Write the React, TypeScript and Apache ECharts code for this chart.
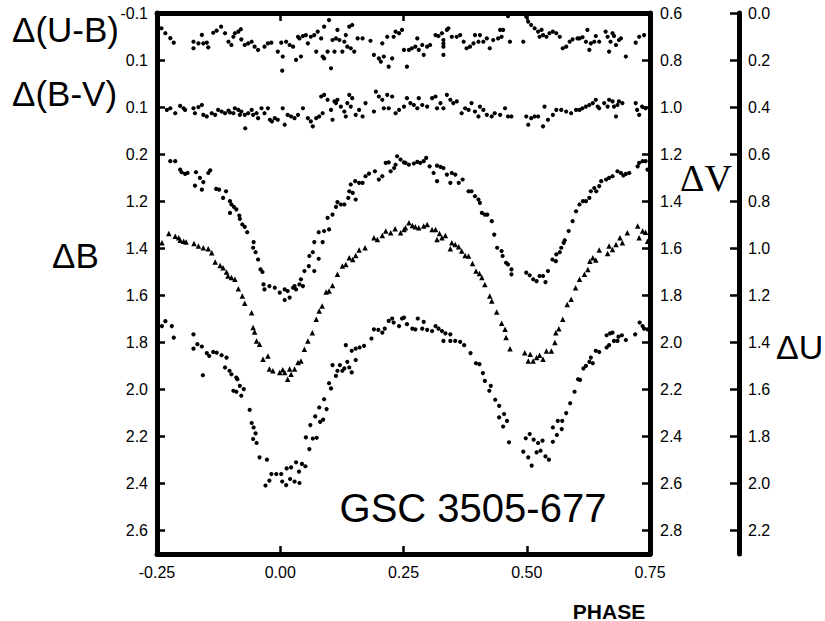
import React, { useEffect, useRef } from 'react';
import * as echarts from 'echarts';

const FONT = '"Liberation Sans", Arial, Helvetica, sans-serif';
const SERIF = '"Liberation Serif", "Times New Roman", serif';

// Phase axis ticks
const phaseTicks = [-0.25, 0, 0.25, 0.5, 0.75];

// Left axis (ΔB scale, labels as printed on the figure)
const leftTickValues = [0.4, 0.6, 0.8, 1.0, 1.2, 1.4, 1.6, 1.8, 2.0, 2.2, 2.4, 2.6];
const leftTickLabels = ['-0.1', '0.1', '0.1', '0.2', '1.2', '1.4', '1.6', '1.8', '2.0', '2.2', '2.4', '2.6'];
// Inner right axis (ΔV)
const vTickValues = [0.6, 0.8, 1.0, 1.2, 1.4, 1.6, 1.8, 2.0, 2.2, 2.4, 2.6, 2.8];
const vTickLabels = ['0.6', '0.8', '1.0', '1.2', '1.4', '1.6', '1.8', '2.0', '2.2', '2.4', '2.6', '2.8'];
// Outer right axis (ΔU)
const uTickValues = [0.0, 0.2, 0.4, 0.6, 0.8, 1.0, 1.2, 1.4, 1.6, 1.8, 2.0, 2.2];
const uTickLabels = ['0.0', '0.2', '0.4', '0.6', '0.8', '1.0', '1.2', '1.4', '1.6', '1.8', '2.0', '2.2'];

// Δ(U-B) [phase, mag]
const ubData: number[][] = [
  [-0.241, -0.035], [-0.233, -0.014], [-0.223, 0.007], [-0.216, 0.026], [-0.176, 0.022], [-0.176, 0.05],
  [-0.166, 0.029], [-0.159, -0.007], [-0.156, 0.029], [-0.149, 0.026], [-0.146, 0.046], [-0.136, -0.016],
  [-0.129, -0.025], [-0.12, -0.042], [-0.112, -0.014], [-0.105, 0.022], [-0.099, 0.036], [-0.095, 0.001],
  [-0.092, -0.014], [-0.085, -0.021], [-0.08, -0.031], [-0.079, 0.012], [-0.072, 0.036], [-0.065, 0.029],
  [-0.058, 0.022], [-0.052, 0.043], [-0.045, 0.057], [-0.032, 0.043], [-0.025, 0.029], [-0.018, 0.026],
  [-0.005, 0.064], [0.002, 0.026], [0.005, 0.085], [0.004, 0.145], [0.012, 0.022], [0.019, 0.036],
  [0.026, 0.043], [0.032, 0.099], [0.036, 0.001], [0.039, 0.008], [0.042, 0.085], [0.046, -0.002],
  [0.052, -0.006], [0.056, 0.029], [0.062, 0.001], [0.069, -0.006], [0.073, 0.064], [0.076, -0.021],
  [0.083, 0.008], [0.086, 0.085], [0.089, 0.093], [0.089, -0.042], [0.096, 0.064], [0.099, -0.07],
  [0.103, 0.135], [0.106, 0.015], [0.11, 0.064], [0.113, 0.008], [0.116, -0.028], [0.12, 0.015],
  [0.126, 0.064], [0.13, 0.022], [0.133, -0.006], [0.136, 0.043], [0.14, -0.042], [0.146, -0.049],
  [0.143, 0.05], [0.15, 0.064], [0.157, 0.008], [0.167, 0.008], [0.183, 0.018], [0.19, 0.078],
  [0.2, 0.093], [0.204, 0.107], [0.207, 0.029], [0.21, 0.085], [0.217, 0.001], [0.22, 0.128],
  [0.227, 0.093], [0.23, 0.001], [0.234, -0.021], [0.241, -0.014], [0.247, -0.028], [0.251, 0.057],
  [0.257, 0.128], [0.261, 0.057], [0.267, 0.05], [0.274, 0.043], [0.278, 0.008], [0.281, 0.057],
  [0.288, 0.036], [0.291, 0.078], [0.298, 0.043], [0.304, 0.036], [0.315, -0.006], [0.321, -0.002],
  [0.328, -0.014], [0.331, 0.043], [0.331, 0.015], [0.331, 0.03], [0.331, 0.078], [0.338, -0.028],
  [0.341, -0.035], [0.348, 0.001], [0.358, 0.001], [0.365, -0.006], [0.372, 0.022], [0.378, 0.05],
  [0.385, 0.043], [0.392, 0.029], [0.395, -0.006], [0.402, 0.022], [0.405, -0.006], [0.412, 0.022],
  [0.419, 0.008], [0.425, 0.05], [0.432, 0.015], [0.442, 0.008], [0.446, -0.028], [0.449, 0.001],
  [0.452, -0.028], [0.462, -0.087], [0.466, 0.022], [0.493, 0.022], [0.499, -0.084], [0.503, -0.063],
  [0.509, -0.049], [0.516, -0.035], [0.523, -0.021], [0.53, -0.028], [0.533, -0.006], [0.526, 0.001],
  [0.54, 0.001], [0.546, -0.014], [0.553, -0.021], [0.56, -0.014], [0.567, 0.001], [0.573, 0.05],
  [0.58, 0.043], [0.587, 0.022], [0.593, 0.012], [0.603, 0.008], [0.607, 0.008], [0.613, 0.003],
  [0.62, 0.022], [0.623, -0.028], [0.627, 0.057], [0.63, 0.029], [0.637, 0.022], [0.64, -0.002],
  [0.647, 0.022], [0.66, -0.021], [0.664, 0.001], [0.667, 0.064], [0.67, 0.022], [0.674, -0.014],
  [0.677, -0.002], [0.681, 0.036], [0.687, 0.015], [0.691, 0.008], [0.701, 0.085], [0.721, 0.026],
  [0.728, 0.001], [0.738, -0.006],
];

// Δ(B-V) [phase, mag]
const bvData: number[][] = [
  [-0.23, 0.112], [-0.223, 0.105], [-0.213, 0.126], [-0.203, 0.095], [-0.196, 0.105], [-0.193, 0.112],
  [-0.176, 0.105], [-0.173, 0.126], [-0.166, 0.1], [-0.159, 0.091], [-0.156, 0.133], [-0.149, 0.14],
  [-0.139, 0.126], [-0.132, 0.133], [-0.126, 0.112], [-0.119, 0.119], [-0.112, 0.126], [-0.105, 0.115],
  [-0.102, 0.123], [-0.095, 0.126], [-0.092, 0.105], [-0.085, 0.112], [-0.082, 0.133], [-0.079, 0.119],
  [-0.072, 0.133], [-0.071, 0.19], [-0.065, 0.126], [-0.058, 0.112], [-0.055, 0.133], [-0.048, 0.126],
  [-0.045, 0.147], [-0.038, 0.105], [-0.032, 0.126], [-0.025, 0.105], [-0.021, 0.154], [-0.017, 0.161],
  [-0.011, 0.147], [-0.005, 0.154], [0.005, 0.105], [0.009, 0.175], [0.015, 0.133], [0.022, 0.14],
  [0.029, 0.147], [0.036, 0.133], [0.046, 0.105], [0.056, 0.147], [0.062, 0.161], [0.066, 0.182],
  [0.073, 0.147], [0.079, 0.14], [0.086, 0.126], [0.083, 0.055], [0.089, 0.048], [0.096, 0.069],
  [0.103, 0.112], [0.106, 0.154], [0.11, 0.076], [0.113, 0.083], [0.116, 0.069], [0.123, 0.098],
  [0.13, 0.119], [0.133, 0.14], [0.136, 0.083], [0.14, 0.048], [0.143, 0.098], [0.146, 0.062],
  [0.153, 0.133], [0.16, 0.112], [0.167, 0.14], [0.173, 0.083], [0.19, 0.119], [0.194, 0.034],
  [0.2, 0.055], [0.207, 0.069], [0.21, 0.105], [0.217, 0.048], [0.22, 0.105], [0.227, 0.055],
  [0.234, 0.126], [0.241, 0.112], [0.251, 0.098], [0.257, 0.062], [0.264, 0.083], [0.271, 0.091],
  [0.278, 0.105], [0.281, 0.062], [0.288, 0.091], [0.298, 0.098], [0.308, 0.062], [0.315, 0.055],
  [0.318, 0.105], [0.325, 0.083], [0.331, 0.105], [0.338, 0.048], [0.345, 0.069], [0.351, 0.083],
  [0.358, 0.076], [0.368, 0.126], [0.375, 0.105], [0.382, 0.112], [0.388, 0.083], [0.395, 0.119],
  [0.402, 0.14], [0.405, 0.098], [0.412, 0.112], [0.419, 0.133], [0.429, 0.14], [0.435, 0.126],
  [0.446, 0.133], [0.456, 0.105], [0.462, 0.14], [0.469, 0.14], [0.499, 0.14], [0.503, 0.175],
  [0.509, 0.147], [0.516, 0.14], [0.523, 0.14], [0.533, 0.182], [0.536, 0.098], [0.543, 0.154],
  [0.553, 0.133], [0.56, 0.112], [0.57, 0.112], [0.58, 0.119], [0.59, 0.126], [0.6, 0.112],
  [0.607, 0.112], [0.613, 0.105], [0.62, 0.098], [0.627, 0.091], [0.634, 0.083], [0.64, 0.069],
  [0.644, 0.098], [0.647, 0.105], [0.657, 0.083], [0.664, 0.098], [0.667, 0.069], [0.674, 0.076],
  [0.677, 0.098], [0.681, 0.14], [0.684, 0.091], [0.687, 0.076], [0.694, 0.083], [0.721, 0.083],
  [0.724, 0.112], [0.728, 0.133], [0.734, 0.098], [0.741, 0.105],
];

// ΔV [phase, mag]
const vData: number[][] = [
  [-0.223, 1.23], [-0.213, 1.23], [-0.203, 1.266], [-0.2, 1.277], [-0.193, 1.284], [-0.188, 1.28],
  [-0.171, 1.277], [-0.173, 1.334], [-0.163, 1.301], [-0.159, 1.351], [-0.156, 1.319], [-0.146, 1.28],
  [-0.142, 1.269], [-0.13, 1.348], [-0.124, 1.351], [-0.11, 1.358], [-0.116, 1.386], [-0.102, 1.4],
  [-0.099, 1.414], [-0.094, 1.424], [-0.102, 1.45], [-0.089, 1.435], [-0.083, 1.461], [-0.082, 1.475],
  [-0.077, 1.499], [-0.072, 1.509], [-0.067, 1.532], [-0.054, 1.574], [-0.055, 1.598], [-0.05, 1.617],
  [-0.045, 1.648], [-0.04, 1.69], [-0.036, 1.701], [-0.034, 1.754], [-0.032, 1.775], [-0.022, 1.761],
  [-0.011, 1.768], [-0.001, 1.789], [0.009, 1.82], [0.009, 1.775], [0.015, 1.782], [0.019, 1.81],
  [0.026, 1.768], [0.032, 1.775], [0.029, 1.761], [0.039, 1.754], [0.046, 1.761], [0.042, 1.732],
  [0.049, 1.697], [0.058, 1.676], [0.059, 1.633], [0.066, 1.617], [0.069, 1.697], [0.078, 1.645],
  [0.069, 1.574], [0.078, 1.532], [0.086, 1.574], [0.089, 1.527], [0.096, 1.471], [0.099, 1.52],
  [0.106, 1.457], [0.113, 1.424], [0.116, 1.404], [0.123, 1.414], [0.13, 1.414], [0.138, 1.386],
  [0.14, 1.358], [0.147, 1.365], [0.153, 1.393], [0.152, 1.315], [0.143, 1.329], [0.16, 1.322],
  [0.167, 1.322], [0.173, 1.294], [0.18, 1.283], [0.192, 1.273], [0.2, 1.308], [0.207, 1.294],
  [0.214, 1.237], [0.22, 1.235], [0.224, 1.273], [0.231, 1.259], [0.234, 1.245], [0.237, 1.209],
  [0.244, 1.223], [0.251, 1.235], [0.254, 1.237], [0.261, 1.245], [0.271, 1.24], [0.278, 1.233],
  [0.284, 1.237], [0.291, 1.23], [0.296, 1.216], [0.303, 1.252], [0.311, 1.28], [0.318, 1.249],
  [0.325, 1.254], [0.331, 1.259], [0.318, 1.315], [0.338, 1.287], [0.345, 1.322], [0.348, 1.28],
  [0.355, 1.287], [0.362, 1.322], [0.37, 1.308], [0.382, 1.358], [0.388, 1.358], [0.395, 1.379],
  [0.402, 1.393], [0.405, 1.407], [0.409, 1.45], [0.415, 1.457], [0.42, 1.457], [0.429, 1.485],
  [0.434, 1.542], [0.44, 1.598], [0.449, 1.612], [0.451, 1.633], [0.458, 1.662], [0.462, 1.669],
  [0.469, 1.711], [0.469, 1.69], [0.499, 1.704], [0.506, 1.715], [0.513, 1.732], [0.52, 1.74],
  [0.526, 1.718], [0.533, 1.718], [0.538, 1.744], [0.543, 1.697], [0.552, 1.648], [0.559, 1.655],
  [0.56, 1.626], [0.567, 1.617], [0.57, 1.598], [0.575, 1.577], [0.577, 1.566], [0.585, 1.527],
  [0.593, 1.485], [0.6, 1.443], [0.607, 1.414], [0.614, 1.4], [0.62, 1.4], [0.627, 1.386],
  [0.63, 1.358], [0.637, 1.344], [0.641, 1.358], [0.647, 1.336], [0.651, 1.315], [0.661, 1.308],
  [0.667, 1.301], [0.674, 1.294], [0.684, 1.273], [0.691, 1.28], [0.696, 1.291], [0.701, 1.284],
  [0.708, 1.28], [0.725, 1.252], [0.728, 1.237], [0.735, 1.23], [0.741, 1.23], [0.745, 1.266],
];

// ΔB [phase, mag] (triangles)
const bData: number[][] = [
  [-0.24, 1.377], [-0.226, 1.337], [-0.213, 1.349], [-0.206, 1.356], [-0.203, 1.366], [-0.196, 1.37],
  [-0.191, 1.374], [-0.175, 1.38], [-0.166, 1.391], [-0.156, 1.398], [-0.146, 1.402], [-0.139, 1.419],
  [-0.132, 1.459], [-0.122, 1.473], [-0.116, 1.483], [-0.109, 1.501], [-0.106, 1.518], [-0.099, 1.525],
  [-0.092, 1.532], [-0.085, 1.572], [-0.077, 1.603], [-0.072, 1.634], [-0.058, 1.674], [-0.055, 1.737],
  [-0.052, 1.756], [-0.048, 1.794], [-0.042, 1.808], [-0.035, 1.872], [-0.025, 1.858], [-0.022, 1.914],
  [-0.015, 1.921], [-0.001, 1.928], [0.005, 1.917], [0.009, 1.928], [0.015, 1.957], [0.019, 1.914],
  [0.022, 1.936], [0.029, 1.914], [0.036, 1.886], [0.042, 1.879], [0.049, 1.829], [0.056, 1.794],
  [0.065, 1.759], [0.073, 1.702], [0.079, 1.667], [0.085, 1.646], [0.093, 1.586], [0.099, 1.582],
  [0.106, 1.558], [0.116, 1.511], [0.126, 1.476], [0.133, 1.469], [0.14, 1.441], [0.147, 1.448],
  [0.153, 1.431], [0.16, 1.408], [0.172, 1.398], [0.19, 1.356], [0.197, 1.363], [0.207, 1.346],
  [0.214, 1.327], [0.224, 1.334], [0.233, 1.317], [0.244, 1.334], [0.251, 1.32], [0.254, 1.313],
  [0.261, 1.292], [0.268, 1.303], [0.274, 1.309], [0.281, 1.313], [0.291, 1.306], [0.298, 1.299],
  [0.308, 1.32], [0.315, 1.32], [0.318, 1.363], [0.323, 1.337], [0.328, 1.356], [0.335, 1.346],
  [0.345, 1.402], [0.348, 1.377], [0.355, 1.384], [0.362, 1.394], [0.368, 1.412], [0.375, 1.431],
  [0.382, 1.433], [0.39, 1.465], [0.397, 1.497], [0.404, 1.507], [0.409, 1.525], [0.415, 1.554],
  [0.425, 1.603], [0.429, 1.624], [0.439, 1.671], [0.449, 1.719], [0.456, 1.745], [0.458, 1.78],
  [0.466, 1.827], [0.496, 1.844], [0.503, 1.879], [0.507, 1.851], [0.513, 1.879], [0.52, 1.865],
  [0.526, 1.855], [0.533, 1.872], [0.54, 1.837], [0.55, 1.837], [0.557, 1.801], [0.559, 1.759],
  [0.565, 1.742], [0.573, 1.702], [0.582, 1.639], [0.59, 1.617], [0.599, 1.568], [0.607, 1.532],
  [0.617, 1.511], [0.624, 1.49], [0.628, 1.455], [0.634, 1.441], [0.64, 1.45], [0.647, 1.408],
  [0.664, 1.422], [0.667, 1.391], [0.674, 1.405], [0.681, 1.384], [0.689, 1.356], [0.694, 1.377],
  [0.704, 1.334], [0.725, 1.306], [0.728, 1.356], [0.735, 1.327], [0.741, 1.332], [0.745, 1.37],
];

// ΔU [phase, mag]
const uData: number[][] = [
  [-0.24, 1.331], [-0.233, 1.31], [-0.22, 1.331], [-0.216, 1.38], [-0.176, 1.366],
  [-0.176, 1.427], [-0.168, 1.408], [-0.159, 1.418], [-0.157, 1.54], [-0.149, 1.446], [-0.144, 1.458],
  [-0.136, 1.441], [-0.129, 1.444], [-0.119, 1.455], [-0.112, 1.507], [-0.109, 1.465], [-0.103, 1.521],
  [-0.099, 1.536], [-0.089, 1.55], [-0.087, 1.557], [-0.095, 1.606], [-0.089, 1.61], [-0.082, 1.585],
  [-0.074, 1.599], [-0.079, 1.627], [-0.062, 1.687], [-0.058, 1.743], [-0.054, 1.762], [-0.05, 1.787],
  [-0.055, 1.811], [-0.048, 1.828], [-0.042, 1.889], [-0.027, 1.899], [-0.03, 2.009], [-0.022, 1.988],
  [-0.018, 1.96], [-0.008, 1.96], [0.002, 1.96], [0.004, 1.992], [0.012, 2.007], [0.013, 1.936],
  [0.022, 1.932], [0.02, 1.981], [0.029, 1.992], [0.032, 1.91], [0.039, 1.998], [0.038, 1.95],
  [0.044, 1.917], [0.051, 1.927], [0.052, 1.804], [0.059, 1.854], [0.061, 1.752], [0.066, 1.809],
  [0.071, 1.715], [0.074, 1.806], [0.081, 1.738], [0.079, 1.677], [0.087, 1.729], [0.089, 1.642],
  [0.094, 1.684], [0.099, 1.574], [0.103, 1.596], [0.106, 1.497], [0.113, 1.543], [0.116, 1.521],
  [0.121, 1.497], [0.126, 1.521], [0.13, 1.511], [0.136, 1.483], [0.14, 1.507], [0.145, 1.528],
  [0.145, 1.436], [0.153, 1.475], [0.153, 1.427], [0.161, 1.422], [0.17, 1.415], [0.133, 1.412],
  [0.185, 1.384], [0.19, 1.345], [0.199, 1.347], [0.207, 1.359], [0.212, 1.342], [0.22, 1.309],
  [0.227, 1.299], [0.23, 1.316], [0.241, 1.331], [0.247, 1.299], [0.251, 1.295], [0.257, 1.323],
  [0.268, 1.342], [0.274, 1.345], [0.279, 1.299], [0.288, 1.342], [0.291, 1.313], [0.298, 1.347],
  [0.308, 1.352], [0.315, 1.331], [0.321, 1.342], [0.328, 1.352], [0.335, 1.362], [0.345, 1.366],
  [0.331, 1.394], [0.345, 1.394], [0.355, 1.394], [0.365, 1.398], [0.373, 1.412], [0.386, 1.446],
  [0.397, 1.489], [0.404, 1.493], [0.411, 1.531], [0.415, 1.564], [0.424, 1.606], [0.427, 1.585],
  [0.436, 1.644], [0.444, 1.67], [0.444, 1.719], [0.452, 1.758], [0.454, 1.705], [0.46, 1.734],
  [0.464, 1.825], [0.493, 1.865], [0.498, 1.808], [0.503, 1.889], [0.506, 1.79], [0.51, 1.924],
  [0.514, 1.814], [0.52, 1.868], [0.523, 1.828], [0.528, 1.861], [0.532, 1.818], [0.538, 1.885],
  [0.545, 1.899], [0.553, 1.823], [0.553, 1.762], [0.561, 1.794], [0.563, 1.734], [0.571, 1.769],
  [0.572, 1.734], [0.58, 1.701], [0.588, 1.659], [0.597, 1.61], [0.604, 1.557], [0.608, 1.56],
  [0.615, 1.511], [0.62, 1.5], [0.627, 1.483], [0.63, 1.465], [0.634, 1.489], [0.64, 1.436],
  [0.647, 1.441], [0.662, 1.422], [0.667, 1.412], [0.677, 1.394], [0.684, 1.394], [0.701, 1.39],
  [0.662, 1.37], [0.669, 1.362], [0.674, 1.359], [0.686, 1.376], [0.693, 1.37], [0.72, 1.366],
  [0.729, 1.316], [0.735, 1.331], [0.738, 1.342], [0.745, 1.345],
];

function labelFor(values: number[], labels: string[]) {
  return (v: number) => {
    for (let i = 0; i < values.length; i++) {
      if (Math.abs(values[i] - v) < 1e-6) return labels[i];
    }
    return '';
  };
}

const axisLineStyle = { color: '#000', width: 5 };
const tickStyle = { color: '#000', width: 2.5 };
const labelStyle = { fontSize: 16, color: '#000', fontFamily: FONT };

export default function App() {
  const ref = useRef<HTMLDivElement>(null);
  useEffect(() => {
    const chart = echarts.init(ref.current!, null, { renderer: 'svg' });
    const xBase = {
      type: 'value' as const,
      min: -0.25,
      max: 0.75,
      interval: 0.25,
      splitLine: { show: false },
      axisLine: { onZero: false, lineStyle: axisLineStyle },
      axisTick: { inside: true, length: 8, lineStyle: tickStyle },
    };
    const scatter = (data: number[][], yAxisIndex: number, symbol = 'circle', size = 4.2) => ({
      type: 'scatter',
      data,
      yAxisIndex,
      symbol,
      symbolSize: size,
      itemStyle: { color: '#000', opacity: 1 },
      silent: true,
    });
    chart.setOption({
      animation: false,
      backgroundColor: '#fff',
      grid: { left: 157, top: 13, width: 493, height: 541, containLabel: false },
      xAxis: [
        {
          ...xBase,
          position: 'bottom',
          axisLabel: {
            ...labelStyle,
            margin: 10,
            customValues: phaseTicks,
            formatter: (v: number) => v.toFixed(2),
          },
        },
        { ...xBase, position: 'top', axisLabel: { show: false } },
      ],
      yAxis: [
        {
          type: 'value', inverse: true, min: 0.4, max: 2.7, interval: 0.2, position: 'left',
          splitLine: { show: false },
          axisLine: { onZero: false, lineStyle: axisLineStyle },
          axisTick: { inside: true, length: 8, lineStyle: tickStyle, customValues: leftTickValues },
          axisLabel: { ...labelStyle, margin: 9, customValues: leftTickValues, formatter: labelFor(leftTickValues, leftTickLabels) },
        },
        {
          type: 'value', inverse: true, min: 0.6, max: 2.9, interval: 0.2, position: 'right',
          splitLine: { show: false },
          axisLine: { onZero: false, lineStyle: axisLineStyle },
          axisTick: { inside: true, length: 8, lineStyle: tickStyle, customValues: vTickValues },
          axisLabel: { ...labelStyle, margin: 10, customValues: vTickValues, formatter: labelFor(vTickValues, vTickLabels) },
        },
        {
          type: 'value', inverse: true, min: 0.0, max: 2.3, interval: 0.2, position: 'right', offset: 89,
          splitLine: { show: false },
          axisLine: { onZero: false, lineStyle: axisLineStyle },
          axisTick: { inside: true, length: 9, lineStyle: tickStyle, customValues: uTickValues },
          axisLabel: { ...labelStyle, margin: 9, customValues: uTickValues, formatter: labelFor(uTickValues, uTickLabels) },
        },
        { type: 'value', inverse: true, min: -0.1, max: 2.2, show: false, axisLine: { onZero: false } },
        { type: 'value', inverse: true, min: -0.3, max: 2.0, show: false, axisLine: { onZero: false } },
      ],
      series: [
        scatter(ubData, 3),
        scatter(bvData, 4),
        scatter(vData, 1),
        scatter(bData, 0, 'triangle', 5.5),
        scatter(uData, 2),
      ],
      graphic: [
        { type: 'text', x: 12, y: 29, style: { text: 'Δ(U-B)', fontSize: 35, fontFamily: FONT, fill: '#000', verticalAlign: 'middle' } },
        { type: 'text', x: 12, y: 93, style: { text: 'Δ(B-V)', fontSize: 35, fontFamily: FONT, fill: '#000', verticalAlign: 'middle' } },
        { type: 'text', x: 52, y: 255, style: { text: 'ΔB', fontSize: 35, fontFamily: FONT, fill: '#000', verticalAlign: 'middle' } },
        { type: 'text', x: 680, y: 178, style: { text: 'ΔV', fontSize: 38, fontFamily: SERIF, fill: '#000', verticalAlign: 'middle' } },
        { type: 'text', x: 776, y: 347, style: { text: 'ΔU', fontSize: 34, fontFamily: FONT, fill: '#000', verticalAlign: 'middle' } },
        { type: 'text', x: 473, y: 508, style: { text: 'GSC 3505-677', fontSize: 40, fontFamily: FONT, fill: '#000', align: 'center', verticalAlign: 'middle' } },
        { type: 'text', x: 609, y: 611, style: { text: 'PHASE', fontSize: 21, fontWeight: 'bold', fontFamily: FONT, fill: '#000', align: 'center', verticalAlign: 'middle' } },
      ],
    });
    return () => chart.dispose();
  }, []);
  return <div ref={ref} style={{ position: 'fixed', left: 0, top: 0, width: 825, height: 621 }} />;
}
